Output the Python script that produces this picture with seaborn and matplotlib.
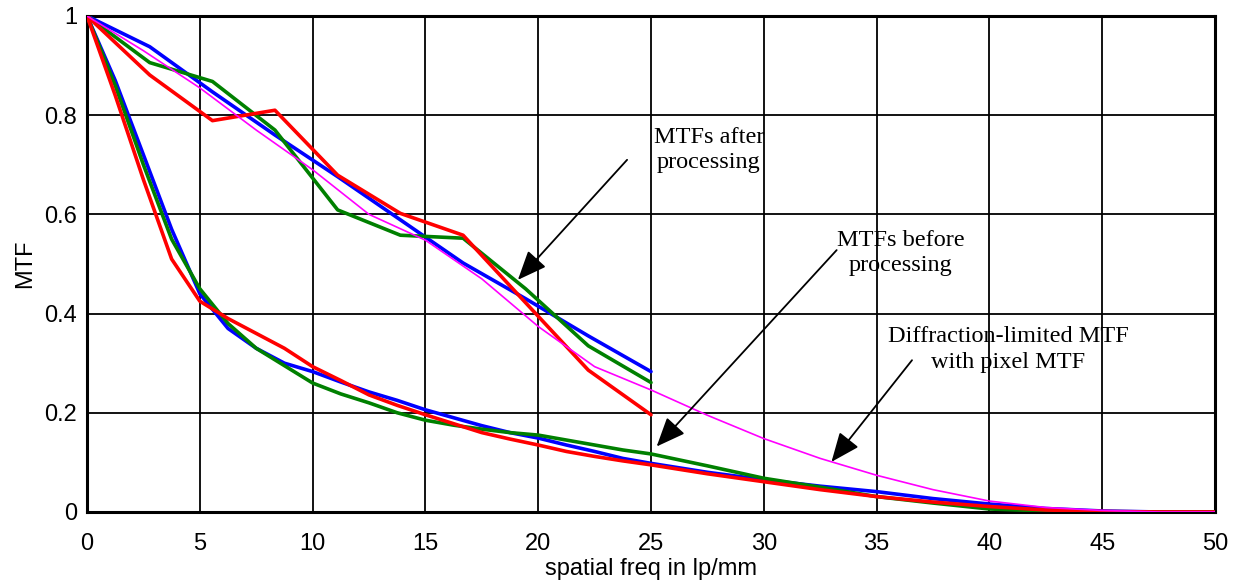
import matplotlib
matplotlib.use("Agg")
import matplotlib.pyplot as plt
import seaborn as sns
import pandas as pd

# ---------------- data ----------------
freq_after = [0, 2.78, 5.56, 8.33, 11.11, 13.89, 16.67, 19.44, 22.22, 25]
after_blue = [1.0, 0.938, 0.847, 0.76, 0.676, 0.589, 0.502, 0.43, 0.355, 0.283]
after_green = [1.0, 0.906, 0.868, 0.77, 0.609, 0.558, 0.552, 0.45, 0.335, 0.261]
after_red = [1.0, 0.881, 0.789, 0.81, 0.679, 0.602, 0.558, 0.422, 0.286, 0.196]

freq_before = [0, 1.25, 2.5, 3.75, 5, 6.25, 7.5, 8.75, 10, 11.25, 12.5, 13.75,
               15, 16.25, 17.5, 18.75, 20, 21.25, 22.5, 23.75, 25, 27.5, 30,
               32.5, 35, 37.5, 40, 42.5, 45, 47.5, 50]
before_blue = [1.0, 0.87, 0.72, 0.57, 0.44, 0.37, 0.33, 0.30, 0.283, 0.262,
               0.242, 0.225, 0.206, 0.19, 0.174, 0.16, 0.149, 0.135, 0.122,
               0.108, 0.098, 0.08, 0.065, 0.052, 0.041, 0.027, 0.016, 0.007,
               0.002, 0.0, 0.0]
before_green = [1.0, 0.86, 0.70, 0.55, 0.45, 0.38, 0.33, 0.295, 0.26, 0.238,
                0.22, 0.20, 0.185, 0.175, 0.167, 0.16, 0.155, 0.145, 0.135,
                0.125, 0.117, 0.093, 0.068, 0.05, 0.031, 0.018, 0.006, 0.002,
                0.0, 0.0, 0.0]
before_red = [1.0, 0.84, 0.67, 0.51, 0.425, 0.39, 0.36, 0.33, 0.293, 0.265,
              0.236, 0.215, 0.196, 0.178, 0.16, 0.147, 0.135, 0.122, 0.112,
              0.103, 0.095, 0.077, 0.061, 0.045, 0.031, 0.02, 0.011, 0.004,
              0.001, 0.0, 0.0]

freq_diff = [0, 2.5, 5, 7.5, 10, 12.5, 15, 17.5, 20, 22.5, 25, 27.5, 30, 32.5,
             35, 37.5, 40, 42.5, 45, 47.5, 50]
diff_mtf = [1.0, 0.93, 0.855, 0.77, 0.69, 0.60, 0.548, 0.47, 0.374, 0.293,
            0.246, 0.195, 0.148, 0.108, 0.074, 0.045, 0.022, 0.009, 0.003,
            0.0, 0.0]

x_ticks = [0, 5, 10, 15, 20, 25, 30, 35, 40, 45, 50]
y_ticks = [0, 0.2, 0.4, 0.6, 0.8, 1.0]
y_tick_labels = ["0", "0.2", "0.4", "0.6", "0.8", "1"]

annotations = [
    ("MTFs after\nprocessing", (27.57, 0.73), (23.94, 0.71), (19.1, 0.468)),
    ("MTFs before\nprocessing", (36.08, 0.522), (33.23, 0.528), (25.25, 0.132)),
    ("Diffraction-limited MTF\nwith pixel MTF", (40.82, 0.327), (36.57, 0.306), (33.0, 0.101)),
]

# ---------------- style ----------------
sns.set_style("white")
plt.rcParams["font.family"] = ["Liberation Sans", "DejaVu Sans"]

fig = plt.figure(figsize=(12.38, 5.88), dpi=100)
ax = fig.add_axes([0.0703, 0.1293, 0.9111, 0.8435])

thick = 2.6
series = [
    (freq_before, before_blue, "#0000ff", thick),
    (freq_before, before_green, "#008000", thick),
    (freq_before, before_red, "#ff0000", thick),
    (freq_after, after_blue, "#0000ff", thick),
    (freq_after, after_green, "#008000", thick),
    (freq_after, after_red, "#ff0000", thick),
    (freq_diff, diff_mtf, "#ff00ff", 1.2),
]
for xs, ys, col, lw in series:
    df = pd.DataFrame({"f": xs, "mtf": ys})
    sns.lineplot(data=df, x="f", y="mtf", color=col, lw=lw, ax=ax,
                 sort=False, estimator=None, zorder=3)

ax.set_xlim(0, 50)
ax.set_ylim(0, 1)
ax.set_xticks(x_ticks)
ax.set_xticklabels([str(t) for t in x_ticks])
ax.set_yticks(y_ticks)
ax.set_yticklabels(y_tick_labels)
ax.grid(True, color="black", lw=1.3)
ax.set_axisbelow(True)
for s in ax.spines.values():
    s.set_visible(True)
    s.set_color("black")
    s.set_linewidth(2.2)
ax.tick_params(direction="in", length=8, width=2, color="black",
               labelsize=17, colors="black", top=False, right=False)
ax.tick_params(axis="x", pad=15)
ax.tick_params(axis="y", pad=7)
ax.set_xlabel("spatial freq in lp/mm", fontsize=17, color="black", labelpad=2)
ax.set_ylabel("MTF", fontsize=17, color="black", labelpad=6)

for text, tpos, tail, tip in annotations:
    ax.text(tpos[0], tpos[1], text, ha="center", va="center", color="black",
            fontsize=17.5, family=["Liberation Serif", "DejaVu Serif"],
            linespacing=1.3, zorder=5)
    ax.annotate("", xy=tip, xytext=tail,
                arrowprops=dict(arrowstyle="-|>,head_length=1.8,head_width=0.75",
                                mutation_scale=10, color="black", lw=1.3,
                                shrinkA=0, shrinkB=0),
                zorder=5)

fig.savefig("out.png", dpi=100, facecolor="white")
